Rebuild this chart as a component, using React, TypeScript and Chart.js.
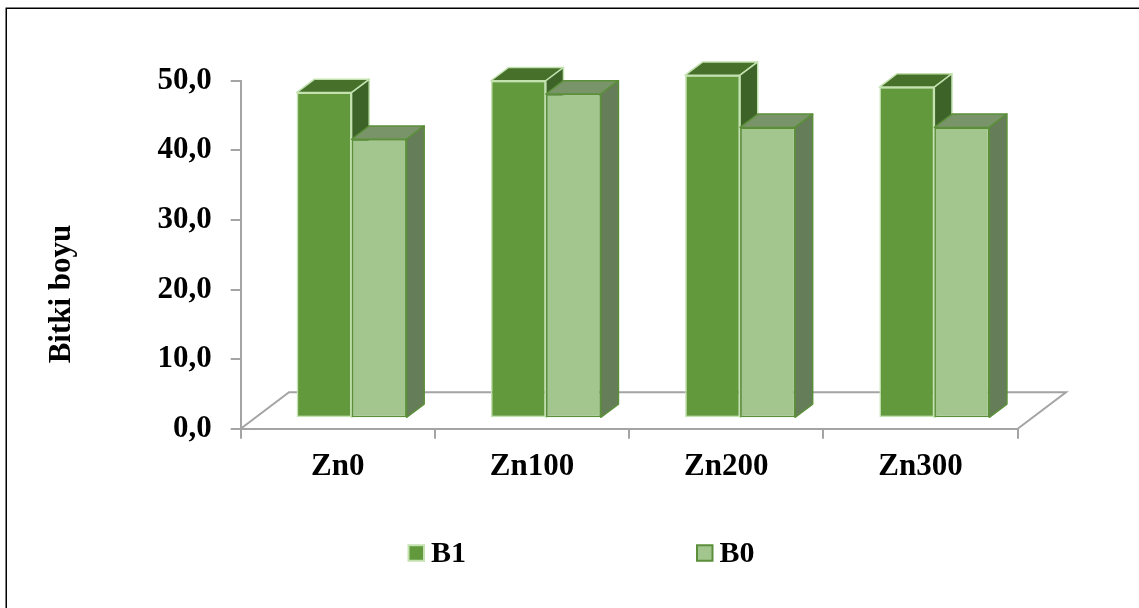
import { useEffect, useRef } from 'react';
import { Chart, registerables } from 'chart.js';

Chart.register(...registerables);

// ---- data ----
const categories = ['Zn0', 'Zn100', 'Zn200', 'Zn300'];
const seriesNames = ['B1', 'B0'];
const b1Values = [46.8, 48.5, 49.3, 47.6];
const b0Values = [40.1, 46.6, 41.8, 41.8];
const yTicks = [0, 10, 20, 30, 40, 50];
const yAxisTitle = 'Bitki boyu';

// ---- styling ----
const FONT = "'Liberation Serif', 'Times New Roman', serif";
const AXIS_GRAY = '#a4a4a4';
const SERIES_STYLE = [
  { front: '#62993c', top: '#47712b', side: '#3d6328', edge: '#c3e2b0' },
  { front: '#a3c68f', top: '#7a946a', side: '#657d58', edge: '#5b8f39' },
];
// oblique projection of the floor depth
const FLOOR_DX = 48.3;
const FLOOR_DY = -36.4;
// bars sit part-way into the floor and take part of its depth
const BAR_OFFSET = 0.285;
const BAR_DEPTH = 0.365;

type Pt = [number, number];

function face(ctx: CanvasRenderingContext2D, pts: Pt[], fill: string, stroke: string) {
  ctx.beginPath();
  ctx.moveTo(pts[0][0], pts[0][1]);
  for (let i = 1; i < pts.length; i++) ctx.lineTo(pts[i][0], pts[i][1]);
  ctx.closePath();
  ctx.fillStyle = fill;
  ctx.fill();
  ctx.strokeStyle = stroke;
  ctx.lineWidth = 1.5;
  ctx.lineJoin = 'round';
  ctx.stroke();
}

const depthPlugin = {
  id: 'depth3d',
  beforeDraw(chart: any) {
    const ctx: CanvasRenderingContext2D = chart.ctx;
    ctx.save();
    ctx.strokeStyle = '#000';
    ctx.lineWidth = 1.5;
    ctx.strokeRect(6.25, 8.25, 1300, 800);
    ctx.restore();
  },
  // Draws the floor and then every bar as a box, category by category,
  // so that each B0 box covers the hidden side of its B1 neighbour.
  beforeDatasetsDraw(chart: any) {
    const ctx: CanvasRenderingContext2D = chart.ctx;
    const a = chart.chartArea;
    ctx.save();
    ctx.strokeStyle = AXIS_GRAY;
    ctx.lineWidth = 2;
    ctx.beginPath();
    ctx.moveTo(a.left, a.bottom);
    ctx.lineTo(a.left + FLOOR_DX, a.bottom + FLOOR_DY);
    ctx.lineTo(a.right + FLOOR_DX, a.bottom + FLOOR_DY);
    ctx.lineTo(a.right, a.bottom);
    ctx.stroke();
    ctx.restore();

    const metas = chart.data.datasets.map((_: any, i: number) => chart.getDatasetMeta(i));
    const dx = FLOOR_DX * BAR_DEPTH;
    const dy = FLOOR_DY * BAR_DEPTH;
    ctx.save();
    // push the bars back onto the floor
    ctx.translate(FLOOR_DX * BAR_OFFSET, FLOOR_DY * BAR_OFFSET);
    for (let c = 0; c < chart.data.labels.length; c++) {
      metas.forEach((meta: any, i: number) => {
        const el = meta.data[c];
        if (!el) return;
        const st = SERIES_STYLE[i];
        el.draw(ctx);
        const { x, y, base, width } = el.getProps(['x', 'y', 'base', 'width'], true);
        const l = x - width / 2;
        const r = x + width / 2;
        face(ctx, [[l, y], [r, y], [r + dx, y + dy], [l + dx, y + dy]], st.top, st.edge);
        face(ctx, [[r, y], [r + dx, y + dy], [r + dx, base + dy], [r, base]], st.side, st.edge);
      });
    }
    ctx.restore();
    return false;
  },
  afterDraw(chart: any) {
    const ctx: CanvasRenderingContext2D = chart.ctx;
    // value axis title
    ctx.save();
    ctx.translate(62, 294);
    ctx.rotate(-Math.PI / 2);
    ctx.font = `bold 31px ${FONT}`;
    ctx.fillStyle = '#000';
    ctx.textAlign = 'center';
    ctx.textBaseline = 'middle';
    ctx.fillText(yAxisTitle, 0, 0);
    ctx.restore();

    // legend
    const legendX = [407.5, 696];
    const legendY = 553;
    const box = 17.5;
    ctx.save();
    ctx.font = `bold 30px ${FONT}`;
    ctx.textBaseline = 'alphabetic';
    chart.data.datasets.forEach((ds: any, i: number) => {
      const x0 = legendX[i];
      ctx.fillStyle = ds.borderColor;
      ctx.fillRect(x0, legendY - box / 2, box, box);
      ctx.fillStyle = ds.backgroundColor;
      ctx.fillRect(x0 + 2, legendY - box / 2 + 2, box - 4, box - 4);
      ctx.fillStyle = '#000';
      ctx.fillText(ds.label, x0 + 23.5, 562);
    });
    ctx.restore();
  },
};

export default function App() {
  const canvasRef = useRef<HTMLCanvasElement | null>(null);

  useEffect(() => {
    if (!canvasRef.current) return;
    const tickFont = { family: FONT, size: 31, weight: 'bold' as const };
    const chart = new Chart(canvasRef.current, {
      type: 'bar',
      data: {
        labels: categories,
        datasets: [b1Values, b0Values].map((vals, i) => ({
          label: seriesNames[i],
          data: vals,
          backgroundColor: SERIES_STYLE[i].front,
          borderColor: SERIES_STYLE[i].edge,
          borderWidth: 1.5,
          borderSkipped: false,
          categoryPercentage: 0.566,
          barPercentage: 1,
        })),
      },
      options: {
        responsive: false,
        devicePixelRatio: 1,
        animation: false,
        layout: { padding: { left: 0, top: 80.7, right: 121.3, bottom: 0 } },
        plugins: {
          legend: { display: false },
          tooltip: { enabled: false },
        },
        scales: {
          x: {
            offset: true,
            grid: {
              offset: true,
              drawOnChartArea: false,
              tickLength: 10,
              color: AXIS_GRAY,
              lineWidth: 2,
            },
            border: { display: true, color: AXIS_GRAY, width: 2 },
            ticks: { color: '#000', font: tickFont, padding: 10 },
            afterFit: (s: any) => {
              s.height = 179.3;
            },
          },
          y: {
            min: 0,
            max: 50,
            afterBuildTicks: (s: any) => {
              s.ticks = yTicks.map((v) => ({ value: v }));
            },
            grid: {
              drawOnChartArea: false,
              tickLength: 10,
              color: AXIS_GRAY,
              lineWidth: 2,
            },
            border: { display: true, color: AXIS_GRAY, width: 2 },
            ticks: {
              color: '#000',
              font: tickFont,
              padding: 19,
              callback: (v: any) => Number(v).toFixed(1).replace('.', ','),
            },
            afterFit: (s: any) => {
              s.width = 240.7;
            },
          },
        },
      },
      plugins: [depthPlugin],
    });
    return () => chart.destroy();
  }, []);

  return (
    <div style={{ position: 'absolute', left: 0, top: 0, width: 1139, height: 608, background: '#fff' }}>
      <canvas ref={canvasRef} width={1139} height={608} style={{ display: 'block' }} />
    </div>
  );
}
